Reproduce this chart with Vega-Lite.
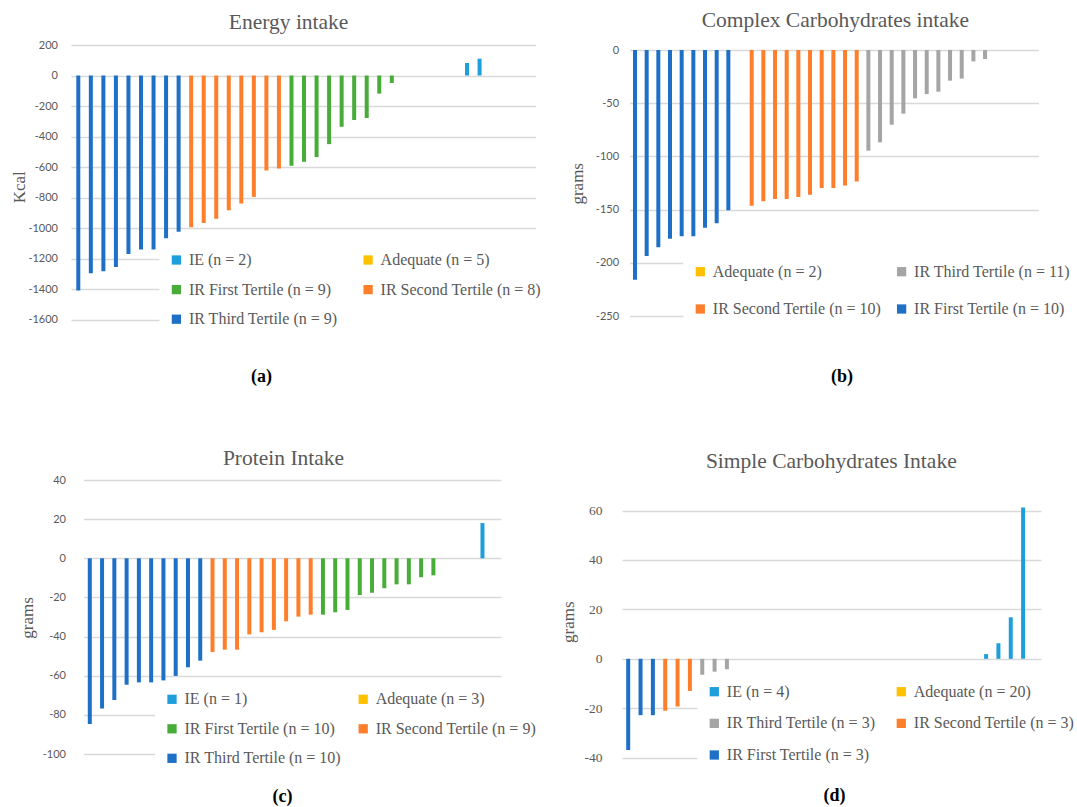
{
"$schema": "https://vega.github.io/schema/vega-lite/v6.json",
"background": "white",
"padding": {"left": 10, "top": 9, "right": 0, "bottom": 0},
"columns": 2,
"spacing": {"row": 160, "column": 86},
"bounds": "flush",
"align": "each",
"resolve": {"scale": {"x": "independent", "y": "independent", "color": "independent"}, "legend": {"color": "independent"}},
"datasets": {
"energy": [
{"i":1,"g":"IR Third Tertile (n = 9)","v":-1410},{"i":2,"g":"IR Third Tertile (n = 9)","v":-1297},{"i":3,"g":"IR Third Tertile (n = 9)","v":-1284},{"i":4,"g":"IR Third Tertile (n = 9)","v":-1255},{"i":5,"g":"IR Third Tertile (n = 9)","v":-1170},{"i":6,"g":"IR Third Tertile (n = 9)","v":-1141},{"i":7,"g":"IR Third Tertile (n = 9)","v":-1141},{"i":8,"g":"IR Third Tertile (n = 9)","v":-1067},{"i":9,"g":"IR Third Tertile (n = 9)","v":-1025},
{"i":10,"g":"IR Second Tertile (n = 8)","v":-995},{"i":11,"g":"IR Second Tertile (n = 8)","v":-968},{"i":12,"g":"IR Second Tertile (n = 8)","v":-940},{"i":13,"g":"IR Second Tertile (n = 8)","v":-883},{"i":14,"g":"IR Second Tertile (n = 8)","v":-840},{"i":15,"g":"IR Second Tertile (n = 8)","v":-796},{"i":16,"g":"IR Second Tertile (n = 8)","v":-623},{"i":17,"g":"IR Second Tertile (n = 8)","v":-610},
{"i":18,"g":"IR First Tertile (n = 9)","v":-592},{"i":19,"g":"IR First Tertile (n = 9)","v":-566},{"i":20,"g":"IR First Tertile (n = 9)","v":-535},{"i":21,"g":"IR First Tertile (n = 9)","v":-450},{"i":22,"g":"IR First Tertile (n = 9)","v":-336},{"i":23,"g":"IR First Tertile (n = 9)","v":-292},{"i":24,"g":"IR First Tertile (n = 9)","v":-279},{"i":25,"g":"IR First Tertile (n = 9)","v":-119},{"i":26,"g":"IR First Tertile (n = 9)","v":-49},
{"i":27,"g":"Adequate (n = 5)","v":0},{"i":28,"g":"Adequate (n = 5)","v":0},{"i":29,"g":"Adequate (n = 5)","v":0},{"i":30,"g":"Adequate (n = 5)","v":0},{"i":31,"g":"Adequate (n = 5)","v":0},
{"i":32,"g":"IE (n = 2)","v":82},{"i":33,"g":"IE (n = 2)","v":110}
],
"complex": [
{"i":1,"g":"IR First Tertile (n = 10)","v":-216},{"i":2,"g":"IR First Tertile (n = 10)","v":-193.6},{"i":3,"g":"IR First Tertile (n = 10)","v":-185.5},{"i":4,"g":"IR First Tertile (n = 10)","v":-177.3},{"i":5,"g":"IR First Tertile (n = 10)","v":-175.1},{"i":6,"g":"IR First Tertile (n = 10)","v":-175.1},{"i":7,"g":"IR First Tertile (n = 10)","v":-167},{"i":8,"g":"IR First Tertile (n = 10)","v":-162.9},{"i":9,"g":"IR First Tertile (n = 10)","v":-150.7},{"i":10,"g":"IR First Tertile (n = 10)","v":0},
{"i":11,"g":"IR Second Tertile (n = 10)","v":-146.3},{"i":12,"g":"IR Second Tertile (n = 10)","v":-142.2},{"i":13,"g":"IR Second Tertile (n = 10)","v":-140},{"i":14,"g":"IR Second Tertile (n = 10)","v":-140},{"i":15,"g":"IR Second Tertile (n = 10)","v":-138.2},{"i":16,"g":"IR Second Tertile (n = 10)","v":-136},{"i":17,"g":"IR Second Tertile (n = 10)","v":-129.7},{"i":18,"g":"IR Second Tertile (n = 10)","v":-129.7},{"i":19,"g":"IR Second Tertile (n = 10)","v":-127.3},{"i":20,"g":"IR Second Tertile (n = 10)","v":-123.6},
{"i":21,"g":"IR Third Tertile (n = 11)","v":-94.6},{"i":22,"g":"IR Third Tertile (n = 11)","v":-86.8},{"i":23,"g":"IR Third Tertile (n = 11)","v":-70.2},{"i":24,"g":"IR Third Tertile (n = 11)","v":-59.8},{"i":25,"g":"IR Third Tertile (n = 11)","v":-45.4},{"i":26,"g":"IR Third Tertile (n = 11)","v":-41.4},{"i":27,"g":"IR Third Tertile (n = 11)","v":-39.2},{"i":28,"g":"IR Third Tertile (n = 11)","v":-28.8},{"i":29,"g":"IR Third Tertile (n = 11)","v":-26.9},{"i":30,"g":"IR Third Tertile (n = 11)","v":-10.7},{"i":31,"g":"IR Third Tertile (n = 11)","v":-8.5},
{"i":32,"g":"Adequate (n = 2)","v":0},{"i":33,"g":"Adequate (n = 2)","v":0}
],
"protein": [
{"i":1,"g":"IR Third Tertile (n = 10)","v":-84.7},{"i":2,"g":"IR Third Tertile (n = 10)","v":-76.8},{"i":3,"g":"IR Third Tertile (n = 10)","v":-72.4},{"i":4,"g":"IR Third Tertile (n = 10)","v":-64.6},{"i":5,"g":"IR Third Tertile (n = 10)","v":-63.4},{"i":6,"g":"IR Third Tertile (n = 10)","v":-63.4},{"i":7,"g":"IR Third Tertile (n = 10)","v":-62.4},{"i":8,"g":"IR Third Tertile (n = 10)","v":-60.1},{"i":9,"g":"IR Third Tertile (n = 10)","v":-55.7},{"i":10,"g":"IR Third Tertile (n = 10)","v":-52.3},
{"i":11,"g":"IR Second Tertile (n = 9)","v":-47.9},{"i":12,"g":"IR Second Tertile (n = 9)","v":-46.7},{"i":13,"g":"IR Second Tertile (n = 9)","v":-46.7},{"i":14,"g":"IR Second Tertile (n = 9)","v":-38.9},{"i":15,"g":"IR Second Tertile (n = 9)","v":-37.8},{"i":16,"g":"IR Second Tertile (n = 9)","v":-36.6},{"i":17,"g":"IR Second Tertile (n = 9)","v":-32.2},{"i":18,"g":"IR Second Tertile (n = 9)","v":-29.8},{"i":19,"g":"IR Second Tertile (n = 9)","v":-28.8},
{"i":20,"g":"IR First Tertile (n = 10)","v":-28.8},{"i":21,"g":"IR First Tertile (n = 10)","v":-27.6},{"i":22,"g":"IR First Tertile (n = 10)","v":-26.4},{"i":23,"g":"IR First Tertile (n = 10)","v":-18.8},{"i":24,"g":"IR First Tertile (n = 10)","v":-17.6},{"i":25,"g":"IR First Tertile (n = 10)","v":-15.3},{"i":26,"g":"IR First Tertile (n = 10)","v":-13.3},{"i":27,"g":"IR First Tertile (n = 10)","v":-13.3},{"i":28,"g":"IR First Tertile (n = 10)","v":-9.7},{"i":29,"g":"IR First Tertile (n = 10)","v":-8.7},
{"i":30,"g":"Adequate (n = 3)","v":0},{"i":31,"g":"Adequate (n = 3)","v":0},{"i":32,"g":"Adequate (n = 3)","v":0},
{"i":33,"g":"IE (n = 1)","v":18}
],
"simple": [
{"i":1,"g":"IR First Tertile (n = 3)","v":-36.9},{"i":2,"g":"IR First Tertile (n = 3)","v":-22.8},{"i":3,"g":"IR First Tertile (n = 3)","v":-22.8},
{"i":4,"g":"IR Second Tertile (n = 3)","v":-21},{"i":5,"g":"IR Second Tertile (n = 3)","v":-19.3},{"i":6,"g":"IR Second Tertile (n = 3)","v":-13},
{"i":7,"g":"IR Third Tertile (n = 3)","v":-7.2},{"i":8,"g":"IR Third Tertile (n = 3)","v":-5.2},{"i":9,"g":"IR Third Tertile (n = 3)","v":-4.2},
{"i":10,"g":"Adequate (n = 20)","v":0},{"i":11,"g":"Adequate (n = 20)","v":0},{"i":12,"g":"Adequate (n = 20)","v":0},{"i":13,"g":"Adequate (n = 20)","v":0},{"i":14,"g":"Adequate (n = 20)","v":0},{"i":15,"g":"Adequate (n = 20)","v":0},{"i":16,"g":"Adequate (n = 20)","v":0},{"i":17,"g":"Adequate (n = 20)","v":0},{"i":18,"g":"Adequate (n = 20)","v":0},{"i":19,"g":"Adequate (n = 20)","v":0},{"i":20,"g":"Adequate (n = 20)","v":0},{"i":21,"g":"Adequate (n = 20)","v":0},{"i":22,"g":"Adequate (n = 20)","v":0},{"i":23,"g":"Adequate (n = 20)","v":0},{"i":24,"g":"Adequate (n = 20)","v":0},{"i":25,"g":"Adequate (n = 20)","v":0},{"i":26,"g":"Adequate (n = 20)","v":0},{"i":27,"g":"Adequate (n = 20)","v":0},{"i":28,"g":"Adequate (n = 20)","v":0},{"i":29,"g":"Adequate (n = 20)","v":0},
{"i":30,"g":"IE (n = 4)","v":1.9},{"i":31,"g":"IE (n = 4)","v":6.3},{"i":32,"g":"IE (n = 4)","v":16.8},{"i":33,"g":"IE (n = 4)","v":61.2}
]
},
"concat": [
{
"data": {"name": "energy"},
"width": 465, "height": 275,
"title": {"text": "Energy intake", "dx": -14.9, "offset": 5.7},
"mark": {"type": "bar", "size": 4, "orient": "vertical"},
"encoding": {
"x": {"field": "i", "type": "quantitative", "scale": {"domain": [0.418, 37.46], "range": [0, 464.5], "padding": 0, "nice": false, "zero": false}, "axis": {"title": "(a)", "titleX": 190, "titleY": 56}},
"y": {"field": "v", "type": "quantitative", "scale": {"domain": [-1600, 200], "range": [274.5, 0], "nice": false, "zero": false}, "axis": {"values": [-1600,-1400,-1200,-1000,-800,-600,-400,-200,0,200], "title": "Kcal", "titleX": -51.4, "titleY": 141.7, "labelPadding": 13.5}},
"y2": {"datum": 0},
"color": {"field": "g", "type": "nominal", "scale": {"domain": ["IE (n = 2)", "Adequate (n = 5)", "IR First Tertile (n = 9)", "IR Second Tertile (n = 8)", "IR Third Tertile (n = 9)"], "range": ["#1E9EDB", "#FFC000", "#48AD38", "#FD7F2B", "#1E70C6"]},
"legend": {"legendX": 88.4, "legendY": 198, "columnPadding": 21.7, "rowPadding": 13.6}}
}
},
{
"data": {"name": "complex"},
"width": 428, "height": 275,
"title": {"text": "Complex Carbohydrates intake", "dx": -0.6, "offset": 12.8},
"mark": {"type": "bar", "size": 4, "orient": "vertical"},
"encoding": {
"x": {"field": "i", "type": "quantitative", "scale": {"domain": [0.529, 35.58], "range": [7.5, 416.5], "padding": 0, "nice": false, "zero": false}, "axis": {"title": "(b)", "titleX": 219.5, "titleY": 56}},
"y": {"field": "v", "type": "quantitative", "scale": {"domain": [-250, 0], "range": [271, 5], "nice": false, "zero": false}, "axis": {"values": [-250,-200,-150,-100,-50,0], "title": "grams", "titleX": -44.2, "titleY": 138.3, "labelPadding": 3.4}},
"y2": {"datum": 0},
"color": {"field": "g", "type": "nominal", "scale": {"domain": ["Adequate (n = 2)", "IR Third Tertile (n = 11)", "IR Second Tertile (n = 10)", "IR First Tertile (n = 10)"], "range": ["#FFC000", "#A5A5A5", "#FD7F2B", "#1E70C6"]},
"legend": {"legendX": 61.3, "legendY": 209.7, "columnPadding": 12.3, "rowPadding": 21.3}}
}
},
{
"data": {"name": "protein"},
"width": 465, "height": 278,
"title": {"text": "Protein Intake", "dx": -20, "offset": 5},
"mark": {"type": "bar", "size": 4, "orient": "vertical"},
"encoding": {
"x": {"field": "i", "type": "quantitative", "scale": {"domain": [0.487, 34.51], "range": [12.5, 430], "padding": 0, "nice": false, "zero": false}, "axis": {"title": "(c)", "titleX": 211, "titleY": 38.7}},
"y": {"field": "v", "type": "quantitative", "scale": {"domain": [-100, 40], "range": [274, 0], "nice": false, "zero": false}, "axis": {"values": [-100,-80,-60,-40,-20,0,20,40], "title": "grams", "titleX": -44, "titleY": 137.5, "labelPadding": 5.5}},
"y2": {"datum": 0},
"color": {"field": "g", "type": "nominal", "scale": {"domain": ["IE (n = 1)", "Adequate (n = 3)", "IR First Tertile (n = 10)", "IR Second Tertile (n = 9)", "IR Third Tertile (n = 10)"], "range": ["#1E9EDB", "#FFC000", "#48AD38", "#FD7F2B", "#1E70C6"]},
"legend": {"legendX": 84, "legendY": 202.3, "columnPadding": 13.2, "rowPadding": 13.5}}
}
},
{
"data": {"name": "simple"},
"width": 428, "height": 278,
"title": {"text": "Simple Carbohydrates Intake", "dx": -4.7, "offset": 7.7},
"mark": {"type": "bar", "size": 4, "orient": "vertical"},
"encoding": {
"x": {"field": "i", "type": "quantitative", "scale": {"domain": [0.498, 34.45], "range": [0, 419], "padding": 0, "nice": false, "zero": false}, "axis": {"title": "(d)", "titleX": 211.9, "titleY": 37}},
"y": {"field": "v", "type": "quantitative", "scale": {"domain": [-40, 60], "range": [277.7, 30.5], "nice": false, "zero": false}, "axis": {"values": [-40,-20,0,20,40,60], "title": "grams", "titleX": -53.5, "titleY": 141.7, "labelPadding": 20, "labelFont": "Liberation Serif", "labelFontSize": 13.5}},
"y2": {"datum": 0},
"color": {"field": "g", "type": "nominal", "scale": {"domain": ["IE (n = 4)", "Adequate (n = 20)", "IR Third Tertile (n = 3)", "IR Second Tertile (n = 3)", "IR First Tertile (n = 3)"], "range": ["#1E9EDB", "#FFC000", "#A5A5A5", "#FD7F2B", "#1E70C6"]},
"legend": {"legendX": 75.3, "legendY": 194.7, "columnPadding": 17, "rowPadding": 15.65}}
}
}
],
"config": {
"view": {"stroke": null},
"title": {"font": "Liberation Serif", "fontSize": 21.5, "fontWeight": "normal", "color": "#595959", "anchor": "middle", "frame": "group", "baseline": "alphabetic"},
"axisX": {"labels": false, "ticks": false, "domain": false, "grid": false, "titleFont": "Liberation Serif", "titleFontSize": 18, "titleFontWeight": "bold", "titleColor": "#000000", "titleBaseline": "middle", "titleAlign": "center", "titleAngle": 0},
"axisY": {"domain": false, "ticks": false, "grid": true, "gridColor": "#D9D9D9", "gridWidth": 1.6, "labelFont": "Lato", "labelFontSize": 11, "labelColor": "#595959", "labelExpr": "'' + datum.value", "labelOverlap": false, "labelBaseline": "middle", "titleFont": "Liberation Serif", "titleFontSize": 17, "titleFontWeight": "normal", "titleColor": "#595959", "titleAngle": 270, "titleBaseline": "middle", "titleAlign": "center"},
"legend": {"orient": "none", "columns": 2, "title": null, "fillColor": "white", "padding": 9, "symbolType": "square", "symbolSize": 86, "symbolStrokeWidth": 0, "labelFont": "Liberation Serif", "labelFontSize": 16, "labelColor": "#595959", "labelOffset": 4.5, "labelLimit": 400, "direction": "horizontal"}
}
}
